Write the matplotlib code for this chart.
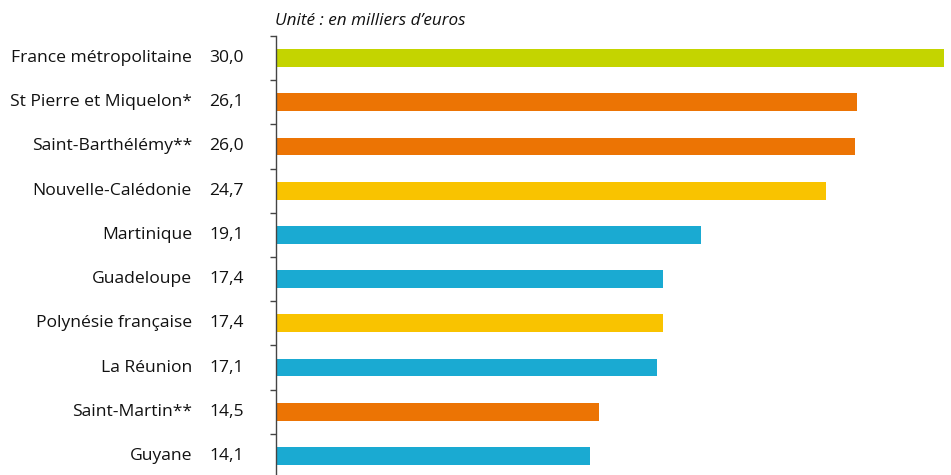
import matplotlib
matplotlib.use("Agg")
import matplotlib.pyplot as plt
import matplotlib.transforms as mtransforms
import numpy as np

territories = ["France métropolitaine", "St Pierre et Miquelon*", "Saint-Barthélémy**",
               "Nouvelle-Calédonie", "Martinique", "Guadeloupe", "Polynésie française",
               "La Réunion", "Saint-Martin**", "Guyane"]
values = [30.0, 26.1, 26.0, 24.7, 19.1, 17.4, 17.4, 17.1, 14.5, 14.1]
groups = ["metro", "com", "com", "pom", "dom", "dom", "pom", "dom", "com", "dom"]
value_labels = ["30,0", "26,1", "26,0", "24,7", "19,1", "17,4", "17,4", "17,1", "14,5", "14,1"]
unit_label = "Unité : en milliers d’euros"

group_colors = {"metro": "#c4d400", "com": "#ec7404", "pom": "#f9c300", "dom": "#1aaad2"}

plt.rcParams['font.family'] = ['Open Sans', 'DejaVu Sans']

fig = plt.figure(figsize=(9.51, 4.75), dpi=100)
ax = fig.add_axes([276/951, -3/475, (944-276)/951, (478-36)/475])

y = np.arange(len(territories))
ax.barh(y, values, height=0.4, color=[group_colors[g] for g in groups])
ax.set_xlim(0, 30)
ax.set_ylim(len(territories) - 0.5, -0.5)

for s in ["top", "right", "bottom"]:
    ax.spines[s].set_visible(False)
ax.spines["left"].set_color("#444444")
ax.spines["left"].set_linewidth(1.0)
ax.set_xticks([])
ax.set_yticks([])
ax.set_yticks(np.arange(-0.5, len(territories), 1.0), minor=True)
ax.tick_params(axis="y", which="minor", direction="out", length=4, width=1, color="#444444", labelleft=False)

trans = mtransforms.blended_transform_factory(fig.transFigure, ax.transData)
for yi, name, vl in zip(y, territories, value_labels):
    ax.text(192/951, yi, name, transform=trans, ha="right", va="center", fontsize=12.6, color="#111111")
    ax.text(244/951, yi, vl, transform=trans, ha="right", va="center", fontsize=12.6, color="#111111")

fig.text(275/951, 1 - 21/475, unit_label, ha="left", va="center", fontsize=12.3,
         style="italic", color="#111111")

fig.savefig("out.png", dpi=100)
